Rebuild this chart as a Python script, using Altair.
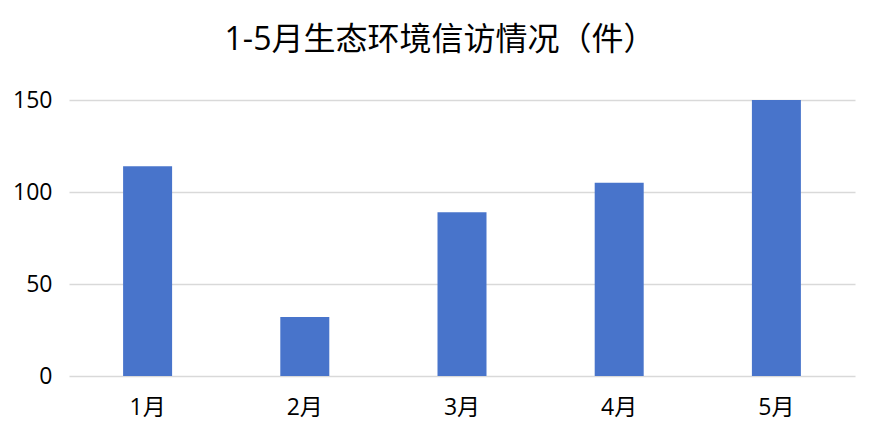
import altair as alt
import pandas as pd

months = ["1月", "2月", "3月", "4月", "5月"]
counts = [114, 32, 89, 105, 150]
y_ticks = [0, 50, 100, 150]

df = pd.DataFrame({"month": months, "count": counts})
FONT = "Open Sans, Noto Sans CJK SC"

chart = alt.Chart(df).mark_bar(size=49, color="#4874CB").encode(
    x=alt.X("month:N", sort=months, title=None,
            scale=alt.Scale(paddingInner=0, paddingOuter=0),
            axis=alt.Axis(labelAngle=0, domain=False, ticks=False, labelPadding=20,
                          labelFontSize=23, labelColor="#000000", labelFont=FONT)),
    y=alt.Y("count:Q", title=None,
            scale=alt.Scale(domain=[0, 150], nice=False),
            axis=alt.Axis(values=y_ticks, domain=False, ticks=False, labelPadding=17,
                          labelFontSize=23, labelColor="#000000", labelFont=FONT,
                          gridColor="#D9D9D9", gridWidth=1.5)),
).properties(
    width=786, height=276,
    title=alt.TitleParams("1-5月生态环境信访情况（件）", fontSize=32, font=FONT,
                          fontWeight="normal", color="#000000", offset=32, dx=-22),
    autosize=alt.AutoSizeParams(type="none"),
    padding={"left": 61, "top": 92, "right": 23, "bottom": 62},
).configure_view(stroke=None)

chart.save("out.html", embed_options={"renderer": "svg", "actions": False})
